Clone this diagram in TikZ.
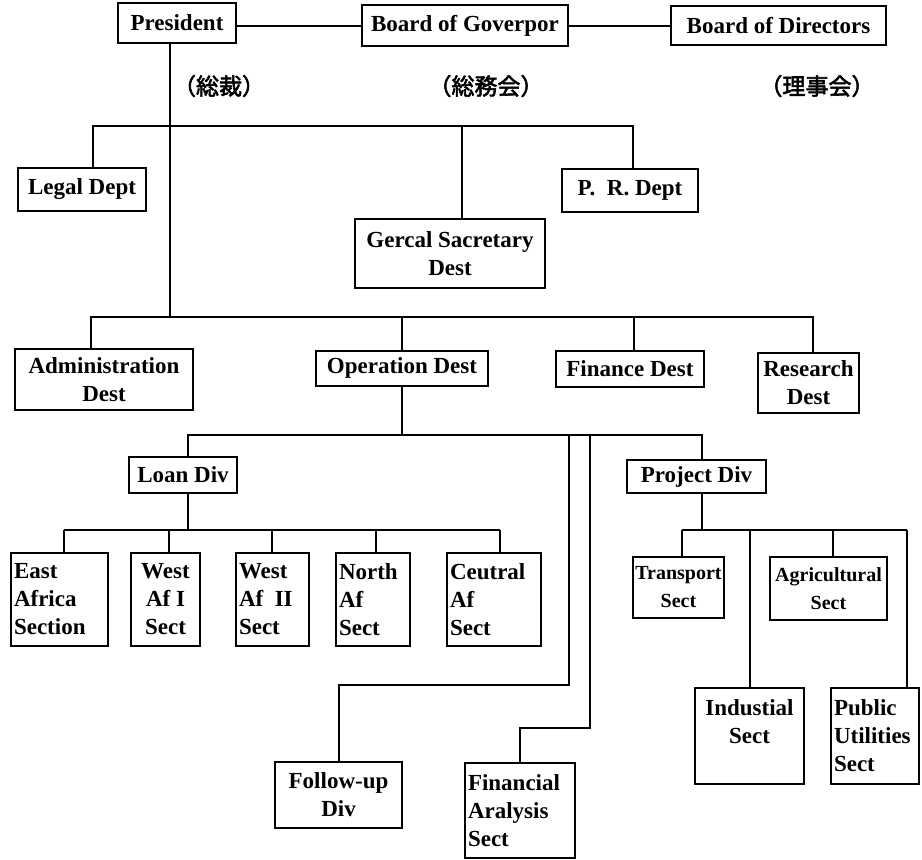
\documentclass[tikz,border=0pt]{standalone}
\usepackage{fontspec}
\setmainfont{Liberation Serif}
\newfontfamily\jpfont{Noto Sans CJK JP}[FakeBold=2.5]
\usepackage{tikz}
\usetikzlibrary{positioning, calc}

\newcommand{\boxfont}{\fontsize{23}{28}\selectfont\bfseries}
\newcommand{\smallboxfont}{\fontsize{20}{28}\selectfont\bfseries}

\begin{document}
\begin{tikzpicture}[
		x=1pt, y=-1pt,
		line width=2pt,
		office/.style={
			draw, line width=2pt, inner sep=3pt, align=center, font=\boxfont
		},
		boxsize/.style 2 args={
			minimum width=#1pt, minimum height=#2pt
		},
		lft/.style={
			align=left, text width=#1pt
		},
		jlabel/.style={
			font=\jpfont\fontsize{23}{23}\selectfont, inner sep=0pt
		},
		]
		\useasboundingbox (0,0) rectangle (922,860);
		
		% Top row
		\node [office, boxsize={118}{40}] (pres) at (177,23) {President};
		\node [office, boxsize={206}{41}] (gov) at (465,25.5) {Board of Goverpor};
		\node [office, boxsize={215}{39}] (dir) at (778.5,25.5) {Board of Directors};
		\node [jlabel] (jpres) at (219,86) {（総裁）};
		\node [jlabel] (jgov) at (486,86) {（総務会）};
		\node [jlabel] (jdir) at (817,86) {（理事会）};
		\draw (pres.east |- gov) -- (gov.west);
		\draw (gov.east) -- (dir.west);
		
		% Staff depts
		\node [office, boxsize={128}{43}] (legal) at (82,189) {Legal Dept};
		\node [office, boxsize={136}{43}] (pr) at (630,190.5) {P.\enspace R. Dept};
		\node [office, boxsize={190}{69}] (gsec) at (450,253.5) {Gercal Sacretary\\Dest};
		\coordinate (b1l) at (93,126);
		\coordinate (b1m) at (462,126);
		\coordinate (b1r) at (633,126);
		\draw (legal.north -| b1l) |- (b1r) -- (b1r |- pr.north);
		\draw (b1m) -- (b1m |- gsec.north);
		
		% Main depts
		\node [office, boxsize={178}{61}] (adm) at (104,379.5) {Administration\\Dest};
		\node [office, boxsize={172}{35}] (op) at (402,368) {Operation Dest};
		\node [office, boxsize={148}{36}] (fin) at (630,369) {Finance Dest};
		\node [office, boxsize={101}{60}] (res) at (808.5,383) {Research\\Dest};
		\coordinate (trunk) at (170,317);
		\coordinate (b3l) at (91,317);
		\coordinate (b3f) at (634,317);
		\coordinate (b3r) at (813,317);
		\draw (pres.south -| trunk) -- (trunk);
		\draw (adm.north -| b3l) |- (b3r) -- (b3r |- res.north);
		\draw (op.north) -- (op.north |- b3l);
		\draw (b3f) -- (b3f |- fin.north);
		
		% Operation divs
		\node [office, boxsize={108}{36}] (loan) at (183,475) {Loan Div};
		\node [office, boxsize={139}{33}] (proj) at (696.5,476.5) {Project Div};
		\node [office, boxsize={127}{66}] (fu) at (338.5,795) {Follow-up\\Div};
		\node [office, boxsize={110}{95}, lft=104] (fa) at (520,810.5) {Financial\\Aralysis\\Sect};
		\coordinate (b4l) at (188,435);
		\coordinate (b4r) at (702,435);
		\coordinate (fuj) at (569,435);
		\coordinate (fuk) at (569,685);
		\coordinate (faj) at (590,435);
		\coordinate (fak) at (590,728);
		\draw (op.south) -- (op.south |- b4l);
		\draw (loan.north -| b4l) |- (b4r) -- (b4r |- proj.north);
		\draw (fuj) -- (fuk) -| (fu.north);
		\draw (faj) -- (fak) -| (fa.north);
		
		% Loan sections
		\node [office, boxsize={97}{93}, lft=91] (ea) at (59.5,599.5) {East\\Africa\\Section};
		\node [office, boxsize={69}{93}] (w1) at (165.5,599.5) {West\\Af I\\Sect};
		\node [office, boxsize={73}{93}, lft=67] (w2) at (272.5,599.5) {West\\Af\enspace II\\Sect};
		\node [office, boxsize={74}{93}, lft=68] (na) at (373,599.5) {North\\Af\\Sect};
		\node [office, boxsize={94}{93}, lft=88] (ca) at (494,599.5) {Ceutral\\Af\\Sect};
		\coordinate (lj) at (188,530);
		\draw (loan.south -| lj) -- (lj);
		\foreach \n/\x in {ea/64, w1/169, w2/272, na/376, ca/500} {
			\coordinate (j-\n) at (\x,530);
			\draw (j-\n) -- (j-\n |- \n.north);
		}
		\draw (j-ea) -- (j-ca);
		
		% Project sections
		\node [office, boxsize={91}{61}, inner sep=1pt, font=\smallboxfont] (tr) at (678.5,587.5) {Transport\\Sect};
		\node [office, boxsize={117}{63}, inner sep=1pt, font=\smallboxfont] (ag) at (828.5,588.5) {Agricultural\\Sect};
		\node [office, boxsize={109}{96}] (ind) at (749.5,736) {Industial\\Sect\\\mbox{}};
		\node [office, boxsize={88}{96}, lft=82] (pu) at (875,736) {Public\\Utilities\\Sect};
		\coordinate (pj) at (702,530);
		\draw (proj.south -| pj) -- (pj);
		\foreach \n/\x in {tr/682, ind/750, ag/833, pu/907} {
			\coordinate (j-\n) at (\x,530);
			\draw (j-\n) -- (j-\n |- \n.north);
		}
		\draw (j-tr) -- (j-pu);
		
	\end{tikzpicture}
\end{document}
